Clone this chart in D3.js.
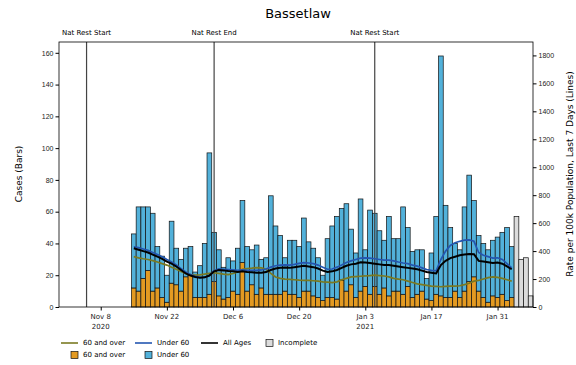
<!DOCTYPE html>
<html>
<head>
<meta charset="utf-8">
<script src="https://cdn.jsdelivr.net/npm/d3@7"></script>
<style>
body { margin: 0; background: #fff; }
svg { display: block; font-family: "DejaVu Sans", sans-serif; }
</style>
</head>
<body>
<svg></svg>
<script>
const margin = {top: 42, right: 43, bottom: 58, left: 59};
const svg_width = 576;
const svg_height = 365;
const width = svg_width - margin.left - margin.right;
const height = svg_height - margin.top - margin.bottom;

// daily cases, starting at firstDay
const firstDay = "2020-11-15";
const casesTotal = [46, 63, 63, 63, 59, 38, 32, 20, 54, 37, 30, 37, 38, 22, 26, 40, 97, 47, 36, 25,
    31, 29, 37, 67, 38, 36, 39, 30, 31, 70, 51, 45, 31, 42, 42, 38, 56, 41, 37, 31,
    20, 43, 51, 57, 62, 65, 49, 34, 68, 36, 61, 59, 48, 42, 57, 43, 43, 63, 50, 35,
    36, 36, 18, 34, 57, 158, 64, 50, 40, 36, 63, 83, 67, 45, 40, 36, 42, 44, 47, 50, 38];
const casesOver60 = [12, 10, 18, 23, 10, 12, 6, 3, 15, 14, 10, 19, 20, 6, 6, 6, 8, 16, 7, 5,
    6, 10, 8, 28, 10, 14, 8, 12, 8, 8, 8, 8, 10, 8, 8, 6, 10, 10, 7, 6,
    4, 6, 6, 5, 17, 10, 14, 6, 10, 13, 8, 13, 8, 12, 7, 10, 10, 8, 13, 6,
    8, 10, 5, 4, 8, 7, 6, 6, 10, 6, 10, 16, 19, 10, 6, 3, 7, 6, 8, 4, 6];
const casesIncomplete = [57, 30, 31, 7];

// 7 day rates per 100k
const rateAll = [420, 410, 400, 390, 375, 360, 345, 325, 310, 290, 265, 240, 225, 215, 210, 212, 225, 255, 265, 262,
    258, 255, 250, 255, 250, 248, 245, 245, 250, 265, 275, 280, 282, 280, 285, 290, 295, 290, 285, 275,
    260, 250, 255, 265, 280, 295, 305, 310, 320, 318, 315, 310, 305, 300, 300, 295, 290, 285, 280, 275,
    270, 260, 250, 245, 240, 300, 330, 350, 360, 370, 375, 380, 378, 330, 325, 320, 315, 318, 310, 290, 270];
const rateUnder60 = [430, 425, 415, 405, 390, 375, 360, 340, 322, 300, 275, 250, 232, 220, 212, 212, 225, 260, 272, 270,
    268, 265, 262, 265, 262, 262, 262, 265, 272, 285, 295, 300, 302, 300, 305, 312, 318, 315, 310, 300,
    285, 270, 272, 285, 300, 318, 330, 340, 350, 352, 350, 345, 340, 335, 335, 330, 322, 315, 310, 300,
    292, 280, 268, 262, 258, 340, 400, 440, 460, 470, 478, 480, 470, 390, 370, 360, 350, 352, 340, 310, 280];
const rateOver60 = [360, 352, 345, 340, 332, 322, 310, 300, 285, 270, 255, 240, 232, 228, 230, 235, 240, 245, 240, 235,
    232, 240, 250, 270, 275, 278, 282, 280, 270, 240, 215, 205, 200, 198, 195, 192, 190, 190, 188, 185,
    180, 178, 175, 180, 195, 205, 215, 218, 220, 222, 225, 228, 225, 222, 215, 205, 200, 195, 185, 175,
    165, 160, 155, 150, 148, 145, 148, 150, 150, 152, 160, 170, 185, 190, 200, 210, 215, 212, 205, 195, 185];

const restrictions = [
    {date: "2020-11-05", label: "Nat Rest Start"},
    {date: "2020-12-02", label: "Nat Rest End"},
    {date: "2021-01-05", label: "Nat Rest Start"}
];
const tickDates = ["2020-11-08", "2020-11-22", "2020-12-06", "2020-12-20", "2021-01-03", "2021-01-17", "2021-01-31"];
const tickLabels = [["Nov 8", "2020"], ["Nov 22"], ["Dec 6"], ["Dec 20"], ["Jan 3", "2021"], ["Jan 17"], ["Jan 31"]];
const leftTicks = [0, 20, 40, 60, 80, 100, 120, 140, 160];
const rightTicks = [0, 200, 400, 600, 800, 1000, 1200, 1400, 1600, 1800];

const colOver = "#e39a22";
const colUnder = "#52b1da";
const colLineOver = "#7a7a22";
const colLineUnder = "#2456b0";
const colIncomplete = "#dcdcdc";

const parse = d3.utcParse("%Y-%m-%d");
const day0 = parse(firstDay);
const dayAt = i => d3.utcDay.offset(day0, i);

const svg = d3.select("svg")
    .attr("width", svg_width)
    .attr("height", svg_height);

const g = svg.append("g")
    .attr("transform", `translate(${margin.left}, ${margin.top})`);

const x = d3.scaleUtc()
    .domain([new Date(Date.UTC(2020, 9, 30, 4)), new Date(Date.UTC(2021, 1, 7, 12))])
    .range([0, width]);
const yL = d3.scaleLinear().domain([0, 166.8]).range([height, 0]);
const yR = d3.scaleLinear().domain([0, 1896]).range([height, 0]);

const dayW = x(dayAt(1)) - x(dayAt(0));

// bars
const bars = g.append("g").attr("stroke", "#111").attr("stroke-width", 0.7);
casesTotal.forEach((tot, i) => {
    const cx = x(dayAt(i));
    const over = casesOver60[i];
    bars.append("rect")
        .attr("x", cx - dayW / 2).attr("width", dayW)
        .attr("y", yL(over)).attr("height", yL(0) - yL(over))
        .attr("fill", colOver);
    bars.append("rect")
        .attr("x", cx - dayW / 2).attr("width", dayW)
        .attr("y", yL(tot)).attr("height", yL(over) - yL(tot))
        .attr("fill", colUnder);
});
casesIncomplete.forEach((v, j) => {
    const cx = x(dayAt(casesTotal.length + j));
    bars.append("rect")
        .attr("x", cx - dayW / 2).attr("width", dayW)
        .attr("y", yL(v)).attr("height", yL(0) - yL(v))
        .attr("fill", colIncomplete);
});

// restriction lines
restrictions.forEach(r => {
    const px = x(parse(r.date));
    g.append("line")
        .attr("x1", px).attr("x2", px).attr("y1", 0).attr("y2", height)
        .attr("stroke", "#444").attr("stroke-width", 1.2);
    g.append("text")
        .attr("x", px).attr("y", -7)
        .attr("text-anchor", "middle")
        .attr("font-size", 7)
        .text(r.label);
});

// rate lines
const line = d3.line().x((d, i) => x(dayAt(i))).y(d => yR(d));
g.append("path").datum(rateOver60).attr("d", line)
    .attr("fill", "none").attr("stroke", colLineOver).attr("stroke-width", 1.7);
g.append("path").datum(rateUnder60).attr("d", line)
    .attr("fill", "none").attr("stroke", colLineUnder).attr("stroke-width", 1.7);
g.append("path").datum(rateAll).attr("d", line)
    .attr("fill", "none").attr("stroke", "#000").attr("stroke-width", 2);

// axes
const xAxis = d3.axisBottom(x)
    .tickValues(tickDates.map(parse))
    .tickSize(3.5)
    .tickFormat("");
const xg = g.append("g").attr("transform", `translate(0, ${height})`).call(xAxis);
xg.select(".domain").remove();
tickDates.forEach((d, i) => {
    const t = g.append("text")
        .attr("x", x(parse(d))).attr("y", height + 12)
        .attr("text-anchor", "middle")
        .attr("font-size", 7)
        .attr("fill", "#222");
    tickLabels[i].forEach((s, k) => {
        t.append("tspan").attr("x", x(parse(d))).attr("dy", k ? 10 : 0).text(s);
    });
});

const yAxisL = d3.axisLeft(yL).tickValues(leftTicks).tickSize(3.5).tickPadding(2);
const ylg = g.append("g").call(yAxisL);
ylg.select(".domain").remove();
ylg.selectAll("text").attr("font-size", 7).attr("fill", "#222");

const yAxisR = d3.axisRight(yR).tickValues(rightTicks).tickFormat(d3.format("d")).tickSize(3.5).tickPadding(2);
const yrg = g.append("g").attr("transform", `translate(${width}, 0)`).call(yAxisR);
yrg.select(".domain").remove();
yrg.selectAll("text").attr("font-size", 7).attr("fill", "#222");

g.append("rect")
    .attr("width", width).attr("height", height)
    .attr("fill", "none").attr("stroke", "#000").attr("stroke-width", 0.8);

// title and axis labels
svg.append("text")
    .attr("x", 298).attr("y", 18)
    .attr("text-anchor", "middle")
    .attr("font-size", 13)
    .text("Bassetlaw");
svg.append("text")
    .attr("transform", "translate(19, 174) rotate(-90)")
    .attr("text-anchor", "middle").attr("dy", "0.35em")
    .attr("font-size", 9)
    .text("Cases (Bars)");
svg.append("text")
    .attr("transform", "translate(570, 174) rotate(-90)")
    .attr("text-anchor", "middle").attr("dy", "0.35em")
    .attr("font-size", 9)
    .text("Rate per 100k Population, Last 7 Days (Lines)");

// legend
const legend = svg.append("g").attr("font-size", 7);
const lineItems = [
    {x: 61, label: "60 and over", color: colLineOver},
    {x: 135, label: "Under 60", color: colLineUnder},
    {x: 201, label: "All Ages", color: "#000"}
];
lineItems.forEach(d => {
    legend.append("line")
        .attr("x1", d.x).attr("x2", d.x + 17).attr("y1", 343).attr("y2", 343)
        .attr("stroke", d.color).attr("stroke-width", 1.6);
    legend.append("text").attr("x", d.x + 22).attr("y", 343).attr("dy", "0.35em").text(d.label);
});
const boxItems = [
    {x: 61, y: 355, label: "60 and over", color: colOver},
    {x: 135, y: 355, label: "Under 60", color: colUnder},
    {x: 256, y: 343, label: "Incomplete", color: colIncomplete}
];
boxItems.forEach(d => {
    legend.append("rect")
        .attr("x", d.x + 10).attr("y", d.y - 3.5).attr("width", 7).attr("height", 7)
        .attr("fill", d.color).attr("stroke", "#111").attr("stroke-width", 0.7);
    legend.append("text").attr("x", d.x + 22).attr("y", d.y).attr("dy", "0.35em").text(d.label);
});
</script>
</body>
</html>
